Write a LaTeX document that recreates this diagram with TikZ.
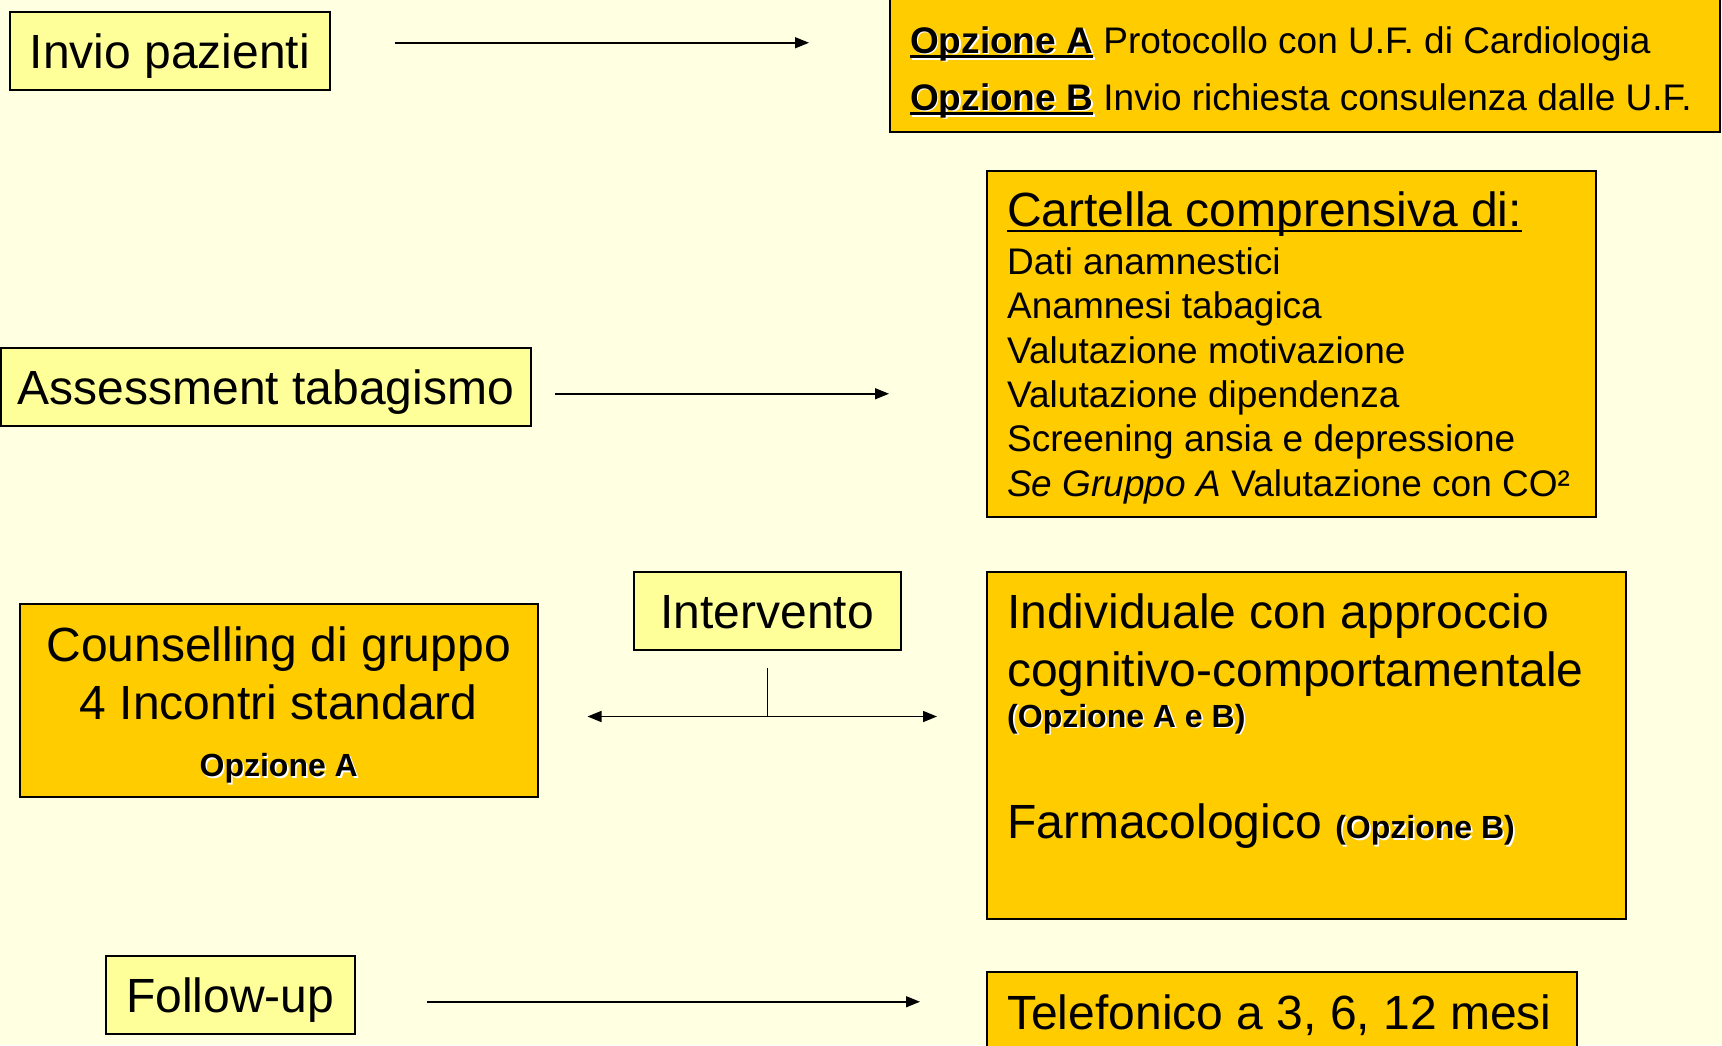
\documentclass[tikz,border=0pt]{standalone}
\usepackage{fontspec}
\setmainfont{Liberation Sans}
\usepackage{xcolor}
\usetikzlibrary{arrows.meta,positioning}

\definecolor{sfondo}{HTML}{FFFFE1}
\definecolor{giallo}{HTML}{FFFF99}
\definecolor{arancio}{HTML}{FFCC00}

% corpo del testo: dimensione e interlinea
\newcommand{\corpo}[2]{\fontsize{#1}{#2}\selectfont}
% testo con ombra bianca
\newcommand{\ombra}[1]{\makebox[0pt][l]{\hspace{1.6pt}\raisebox{-1.6pt}{\color{white}#1}}#1}
% sottolineatura spessa
\newcommand{\sottolinea}[2][2.5pt]{\setbox0\hbox{#2}\rlap{\rule[-5pt]{\wd0}{#1}}\box0\relax}

\begin{document}
\begin{tikzpicture}[
		x=1pt, y=-1pt,
		riquadro/.style={
				draw=black, line width=1.5pt,
				inner sep=0pt
			},
		gialla/.style={riquadro, fill=giallo, font=\corpo{48}{57.6}, text height=46pt, text depth=10pt},
		arancia/.style={riquadro, fill=arancio, font=\corpo{48}{57.6}},
		testo/.style={anchor=north west, inner sep=0pt, align=left},
		linea/.style={line width=1.5pt},
		freccia/.style={linea, -{Triangle[length=14pt,width=11pt]}}
	]
	\useasboundingbox (0,0) rectangle (1722,1045);
	\fill[sfondo] (0,0) rectangle (1722,1045);

	% prima riga
	\node[gialla, minimum width=320pt, minimum height=78pt, anchor=north west] (invio) at (9,11) {Invio pazienti};
	\node[arancia, minimum width=830pt, minimum height=141pt, anchor=north west] (opzioni) at (889,-10) {};
	\node[testo, font=\corpo{37}{57}, below right=36pt and 21pt of opzioni.north west, anchor=north west] (opztxt)
	{\ombra{\sottolinea[3pt]{\bfseries Opzione A}} Protocollo con U.F. di Cardiologia\\
		\ombra{\sottolinea[3pt]{\bfseries Opzione B}} Invio richiesta consulenza dalle U.F.};

	% seconda riga
	\node[gialla, minimum width=530pt, minimum height=78pt, anchor=north west] (assess) at (0,347) {Assessment tabagismo};
	\node[arancia, minimum width=609pt, minimum height=346pt, anchor=north west] (cartella) at (986,170) {};
	\node[testo, font=\corpo{37}{44.4}, below right=22pt and 21pt of cartella.north west, anchor=north west] (carttxt)
	{{\corpo{48}{57.6}\sottolinea[2pt]{Cartella comprensiva di:}}\\[3pt]
		Dati anamnestici\\
		Anamnesi tabagica\\
		Valutazione motivazione\\
		Valutazione dipendenza\\
		Screening ansia e depressione\\
		\textit{Se Gruppo A} Valutazione con CO²};

	% terza riga
	\node[gialla, minimum width=267pt, minimum height=78pt, anchor=north west] (interv) at (633,571) {Intervento};
	\node[arancia, minimum width=518pt, minimum height=193pt, anchor=north west, align=center] (counsel) at (19,603)
	{\rule{0pt}{46pt}Counselling di gruppo\\
		4 Incontri standard\\
		{\corpo{32}{38}\ombra{\bfseries Opzione A}}};
	\node[arancia, minimum width=639pt, minimum height=347pt, anchor=north west] (indiv) at (986,571) {};
	\node[testo, font=\corpo{48}{57.6}, below right=23pt and 21pt of indiv.north west, anchor=north west] (indivtxt)
	{Individuale con approccio\\
		cognitivo-comportamentale\\[-17pt]
		{\corpo{32}{38}\ombra{\bfseries (Opzione A e B)}}\\[54pt]
		Farmacologico {\corpo{32}{38}\ombra{\bfseries (Opzione B)}}};

	% quarta riga
	\node[gialla, minimum width=249pt, minimum height=78pt, anchor=north west] (follow) at (105,955) {Follow-up};
	\node[arancia, minimum width=590pt, minimum height=100pt, anchor=north west] (telef) at (986,971) {};
	\node[testo, font=\corpo{48}{57.6}, below right=24pt and 21pt of telef.north west, anchor=north west] (teleftxt)
	{Telefonico a 3, 6, 12 mesi};

	% collegamenti
	\draw[freccia, shorten <=64pt, shorten >=80pt] ([yshift=8pt]invio.east) -- ([yshift=8pt]invio.east -| opzioni.west);
	\draw[freccia, shorten <=23pt, shorten >=97pt] ([yshift=-7pt]assess.east) -- ([yshift=-7pt]assess.east -| cartella.west);
	\coordinate (bivio) at ([yshift=-66pt]interv.south);
	\draw[linea, shorten <=17pt] (interv.south) -- (bivio);
	\draw[linea, {Triangle[length=14pt,width=11pt]}-{Triangle[length=14pt,width=11pt]}, shorten <=49pt, shorten >=49pt]
	(bivio -| counsel.east) -- (bivio -| indiv.west);
	\draw[freccia, shorten <=71pt, shorten >=66pt] ([yshift=-7pt]follow.east) -- ([yshift=-7pt]follow.east -| telef.west);
\end{tikzpicture}
\end{document}
